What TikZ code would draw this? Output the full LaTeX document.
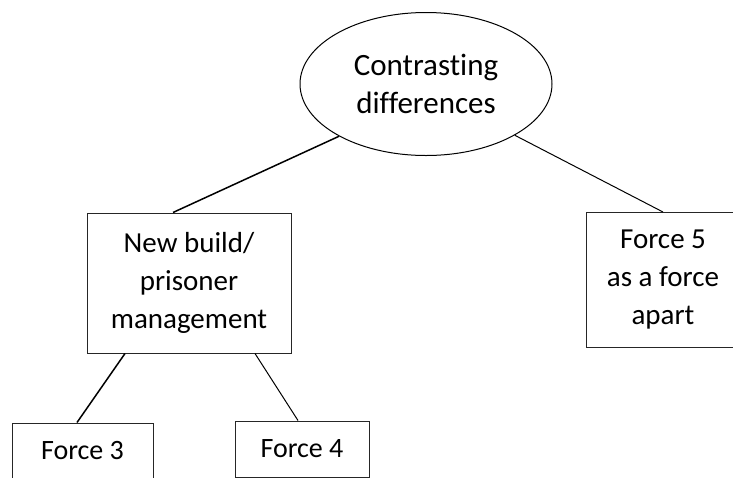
\documentclass[tikz,border=0pt]{standalone}
\usepackage{fontspec}
\setmainfont{Carlito}[Ligatures=NoCommon]
\usetikzlibrary{shapes.geometric}

\begin{document}
\begin{tikzpicture}
	[
		x=1pt, y=-1pt,
		every node/.style={font=\fontsize{29}{38}\selectfont, align=center},
		Link/.style={draw, line width=1pt}
	]
	
	\tikzstyle{Box} = [
		rectangle, 
		inner sep=0pt, 
		text centered, 
		draw=black!85, 
		line width=1pt
	]
	
	\useasboundingbox (0,0) rectangle (733,477);
	\clip (0,0) rectangle (733,477);
	
	\node [ellipse, draw=black, line width=1pt, inner sep=0pt, minimum width=252pt, minimum height=143pt, font=\fontsize{31}{38}\selectfont] (root) at (426,84) {Contrasting\\differences};
	
	\node [Box, minimum width=204pt, minimum height=140pt] (build) at (189,283) {New build/\\prisoner\\management};
	\node [Box, minimum width=154pt, minimum height=135pt] (force5) at (663,280) {Force 5\\as a force\\apart};
	\node [Box, minimum width=141pt, minimum height=56pt, font=\fontsize{28}{38}\selectfont] (force3) at (82.5,451) {Force 3};
	\node [Box, minimum width=134pt, minimum height=56pt, font=\fontsize{28}{38}\selectfont] (force4) at (302,449) {Force 4};
	
	\draw [Link, line width=1.5pt] (root.211) -- ([xshift=-16pt]build.north);
	\draw [Link] (root.330) -- (force5.north);
	\draw [Link, line width=1.5pt] ([xshift=-64pt]build.south) -- ([xshift=-5.5pt]force3.north);
	\draw [Link] ([xshift=66pt]build.south) -- ([xshift=-4pt]force4.north);
\end{tikzpicture}
\end{document}
